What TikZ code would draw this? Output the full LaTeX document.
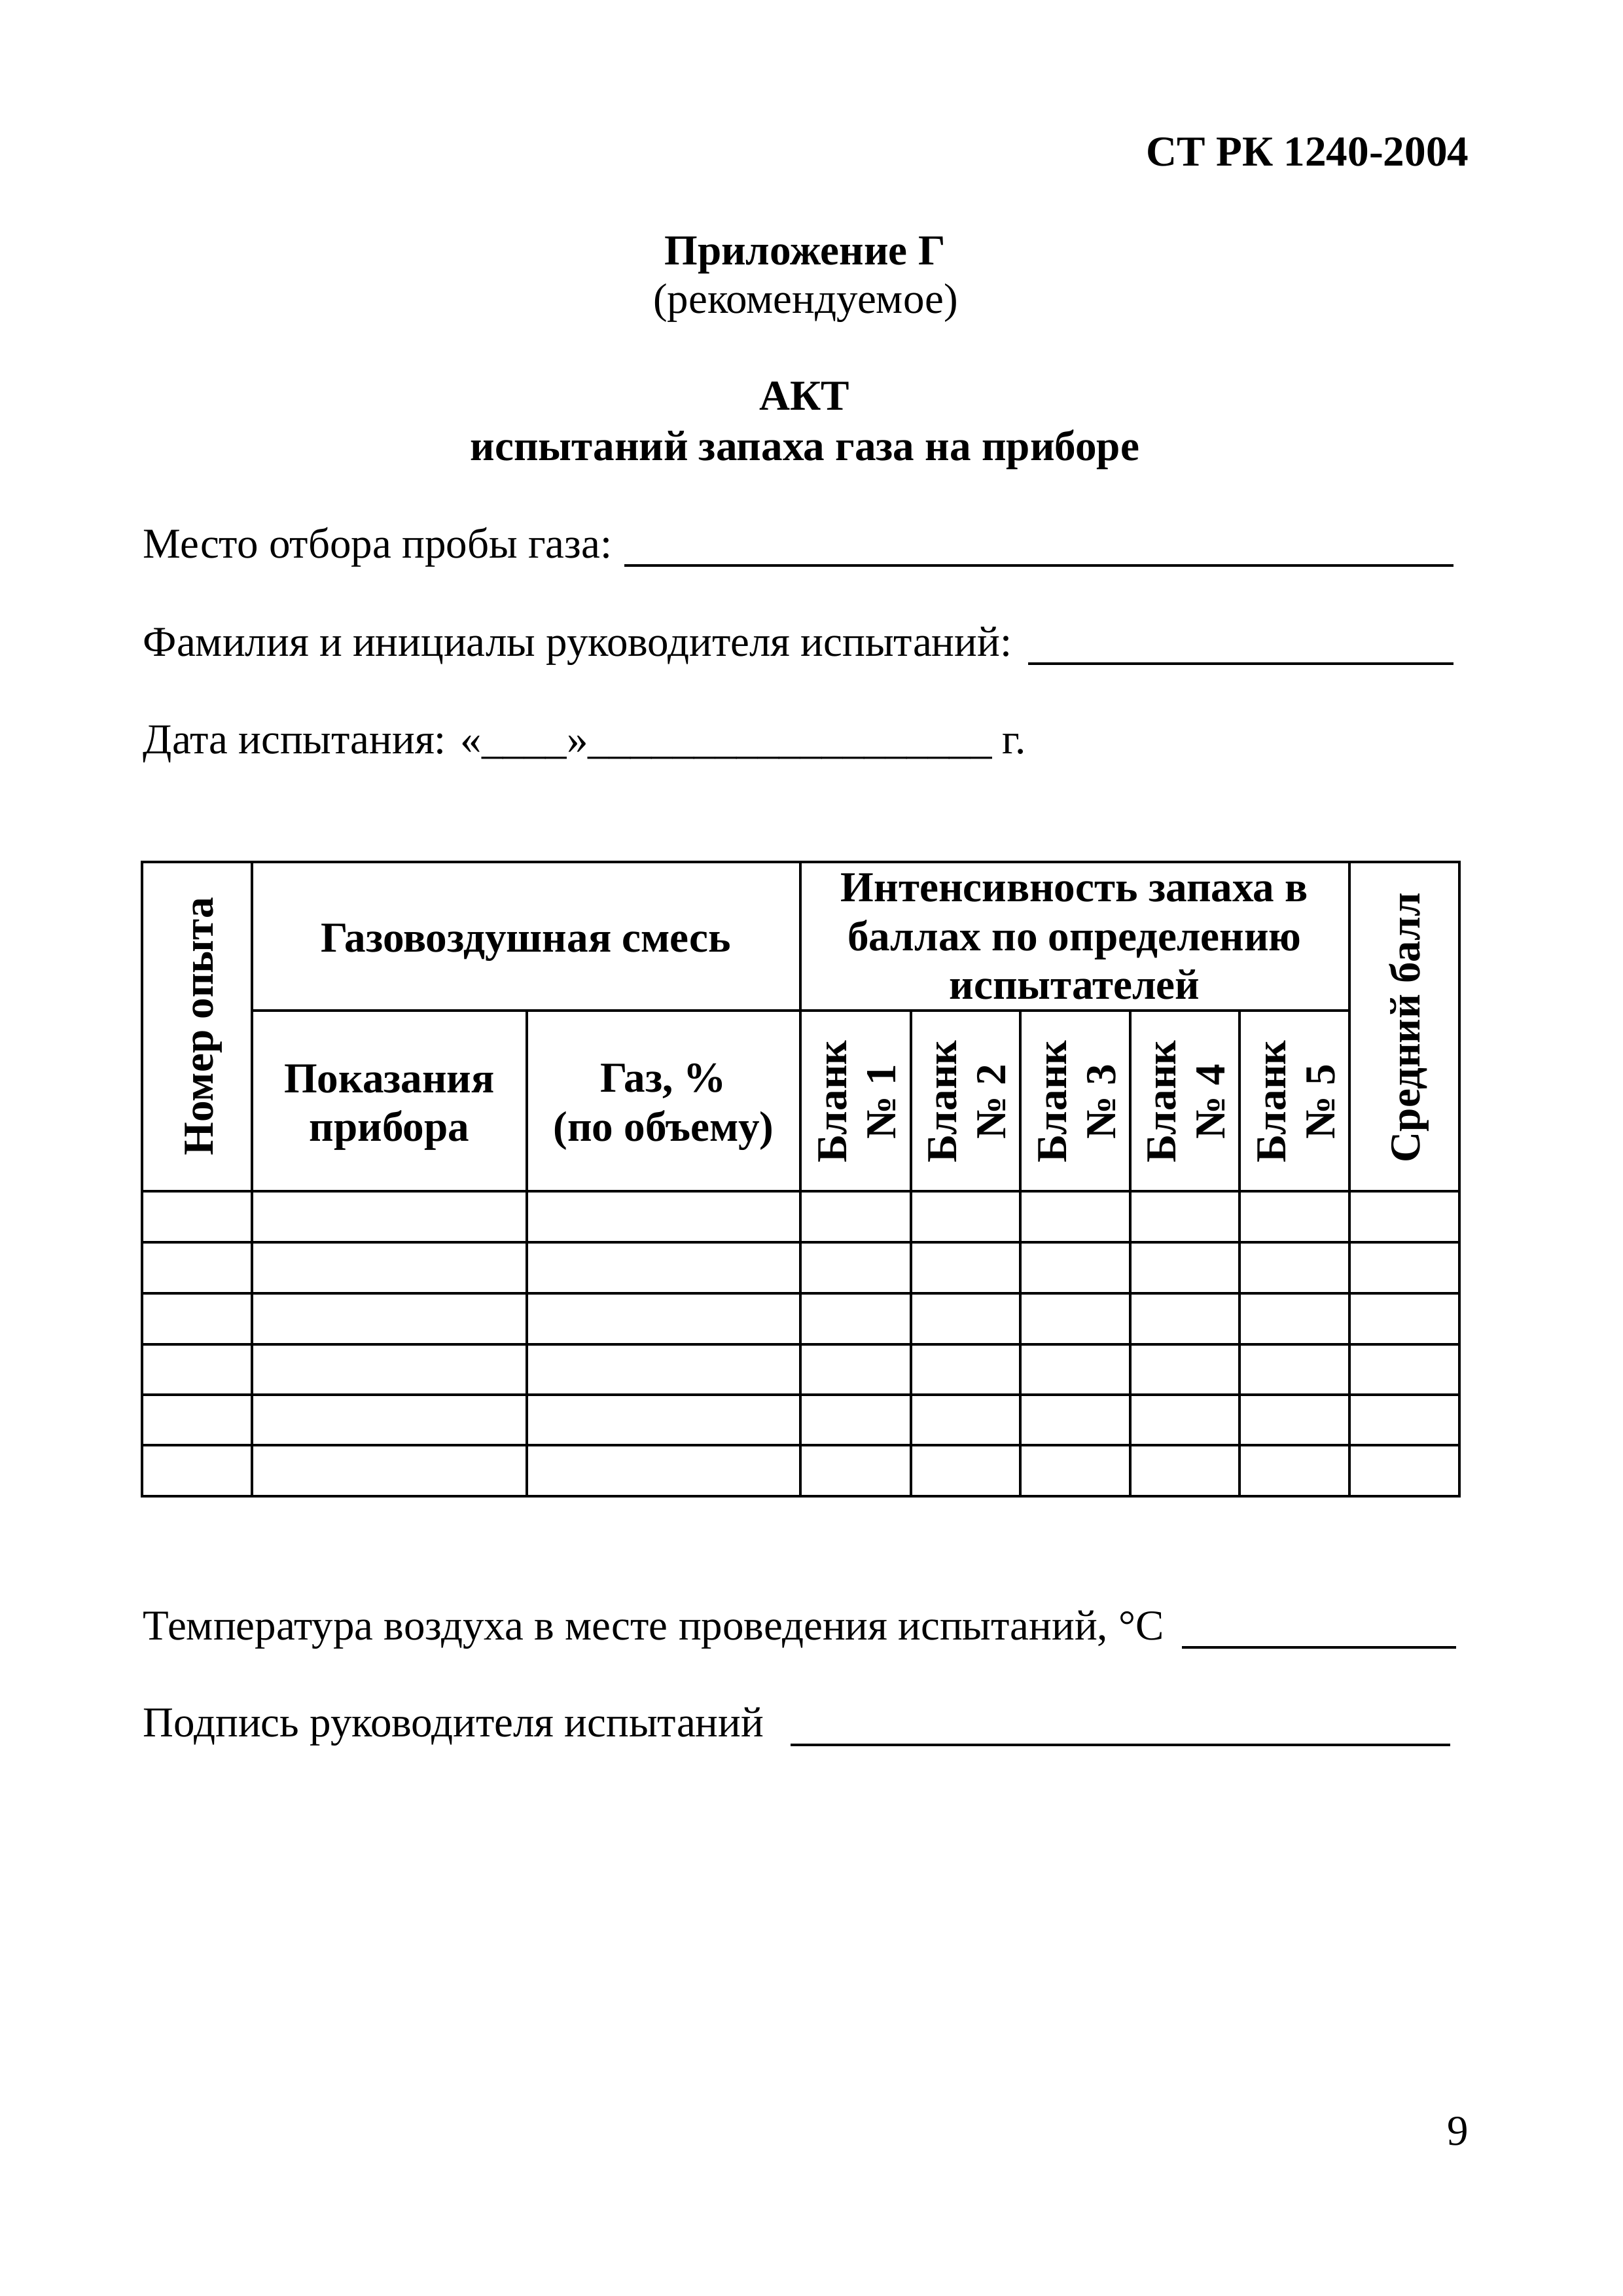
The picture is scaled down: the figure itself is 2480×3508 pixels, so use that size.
\documentclass[tikz,border=0pt]{standalone}
\usepackage{fontspec}
\setmainfont{Liberation Serif}

\tikzset{
  plain/.style={font=\fontsize{15.65}{18}\selectfont, inner sep=0pt},
  title/.style={font=\fontsize{15.7}{18}\selectfont\bfseries, inner sep=0pt, anchor=base},
  head/.style={font=\fontsize{15.7}{18}\selectfont\bfseries, inner sep=0pt, align=center},
  rule/.style={line width=0.85pt},
  fillin/.style={line width=0.8pt}
}

\begin{document}
\begin{tikzpicture}[x=0.0846774mm, y=-0.0846774mm]
  \useasboundingbox (0,0) rectangle (2480,3508);

  % title block
  \node[title, anchor=base east] (std) at (2245,253) {СТ РК 1240-2004};
  \node[title] (annex) at (1230,404) {Приложение Г};
  \node[plain, anchor=base] (kind) at (1231,478) {(рекомендуемое)};
  \node[title] (act) at (1229,626) {АКТ};
  \node[title] (subject) at (1230,703) {испытаний запаха газа на приборе};

  % fields to fill in
  \node[plain, anchor=base west] (place) at (218,852) {Место отбора пробы газа:};
  \draw[fillin] (954,864) -- (2221,864);
  \node[plain, anchor=base west] (chief) at (218,1002) {Фамилия и инициалы руководителя испытаний:};
  \draw[fillin] (1571,1014) -- (2221,1014);
  \node[plain, anchor=base west] (date) at (218,1151) {Дата испытания: «\_\_\_\_»\_\_\_\_\_\_\_\_\_\_\_\_\_\_\_\_\_\_\_ г.};

  % table grid
  \draw[rule] (217,1317) rectangle (2230,2286);
  \foreach \x in {385,1223,2062}
    \draw[rule] (\x,1317) -- (\x,2286);
  \foreach \x in {805,1392,1559,1727,1894}
    \draw[rule] (\x,1544) -- (\x,2286);
  \draw[rule] (385,1544) -- (2062,1544);
  \foreach \y in {1820,1898,1976,2054,2131,2208}
    \draw[rule] (217,\y) -- (2230,\y);

  % table head
  \node[head, rotate=90, anchor=base] (trial) at (325,1568) {Номер опыта};
  \node[head, anchor=base] (mix) at (804,1454) {Газовоздушная смесь};
  \node[head] (odour) at (1642,1431) {Интенсивность запаха в\\баллах по определению\\испытателей};
  \node[head] (reading) at (595,1692) {Показания\\прибора};
  \node[head] (gas) at (1014,1691) {Газ, \%\\(по объему)};
  \foreach \x [count=\i] in {1310,1478,1646,1813,1981}
    \node[head, rotate=90] (form\i) at (\x,1683) {Бланк\\№ \i};
  \node[head, rotate=90, anchor=base] (mean) at (2169,1570) {Средний балл};

  % after the table
  \node[plain, anchor=base west] (temp) at (218,2505) {Температура воздуха в месте проведения испытаний, °С};
  \draw[fillin] (1806,2517) -- (2225,2517);
  \node[plain, anchor=base west] (sign) at (218,2653) {Подпись руководителя испытаний};
  \draw[fillin] (1208,2666) -- (2216,2666);

  \node[plain, anchor=base east] (page) at (2245,3277) {9};
\end{tikzpicture}
\end{document}
